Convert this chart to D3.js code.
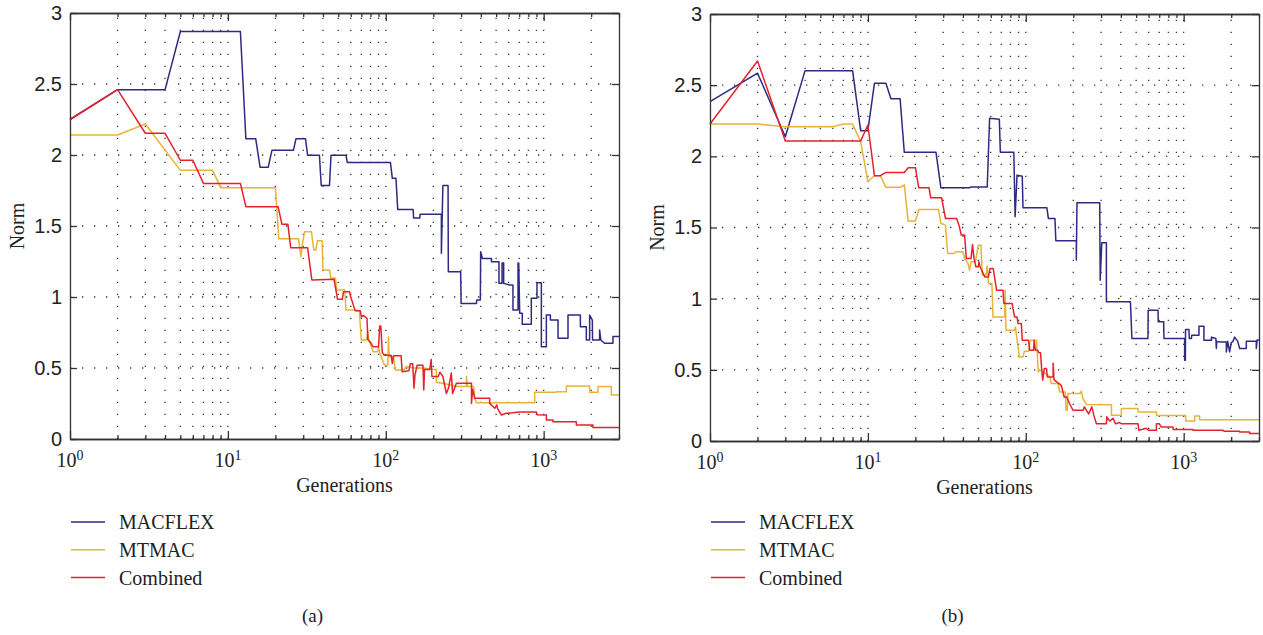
<!DOCTYPE html>
<html>
<head>
<meta charset="utf-8">
<script src="https://cdn.jsdelivr.net/npm/d3@7"></script>
<style>
  html, body { margin: 0; padding: 0; background: #fff; }
  svg { display: block; font-family: "Liberation Serif", "DejaVu Serif", serif; }
  .tick text { font-size: 20px; fill: #222; }
  .axis path, .axis line { stroke: #333; stroke-width: 1.3; }
  .grid line { stroke: #333; stroke-width: 1.3; stroke-dasharray: 1.3 10.7; }
</style>
</head>
<body>
<svg id="chart" width="1263" height="635"></svg>
<script>
// Norm per generation as [generation, norm] vertices
const macflexA = [[1,2.25],[2,2.46],[4,2.46],[5,2.87],[12,2.87],[13,2.115],[15,2.115],[16,1.913],[18,1.913],[19,2.033],[26,2.033],[27,2.115],[31,2.115],[32,1.998],[38,1.998],[39,1.786],[44,1.786],[45,1.998],[56,1.998],[57,1.948],[107,1.948],[110,1.836],[116,1.836],[119,1.617],[149,1.617],[150,1.556],[164,1.556],[165,1.582],[225,1.582],[225,1.308],[230,1.786],[248,1.786],[249,1.178],[298,1.178],[300,0.955],[375,0.955],[377,0.979],[397,0.979],[399,1.319],[409,1.272],[467,1.272],[467,1.249],[521,1.249],[521,1.096],[545,1.096],[545,1.24],[558,1.24],[558,1.096],[609,1.085],[639,1.085],[639,0.908],[688,0.908],[688,1.24],[695,1.24],[705,0.885],[732,0.885],[732,0.808],[835,0.808],[835,0.991],[907,0.991],[907,1.101],[967,1.101],[967,0.65],[1040,0.65],[1040,0.873],[1103,0.873],[1103,0.838],[1233,0.838],[1233,0.709],[1426,0.709],[1426,0.873],[1708,0.873],[1708,0.791],[1863,0.791],[1863,0.697],[1955,0.697],[1955,0.873],[2033,0.838],[2040,0.697],[2261,0.697],[2261,0.768],[2300,0.697],[2430,0.674],[2746,0.674],[2746,0.721],[3000,0.721]];

const mtmacA = [[1,2.141],[2,2.141],[3,2.218],[5,1.892],[8,1.892],[9,1.77],[20,1.77],[21,1.411],[28,1.411],[29,1.284],[29.5,1.36],[30.6,1.46],[33.8,1.46],[35,1.331],[36,1.331],[37,1.397],[39.5,1.397],[40,1.19],[44,1.19],[45,1.132],[48,1.132],[49,1.049],[55,1.049],[56,0.908],[64,0.908],[68,0.9],[70,0.697],[75.6,0.697],[77,0.76],[78,0.7],[83,0.615],[89,0.615],[90,0.65],[92,0.6],[98,0.521],[103,0.521],[104,0.72],[105,0.58],[112,0.58],[115,0.486],[130,0.486],[135,0.51],[150,0.5],[175,0.5],[199,0.49],[209,0.49],[209,0.4],[260,0.38],[280,0.37],[324,0.37],[324,0.44],[330,0.37],[360,0.37],[366,0.287],[375,0.256],[877,0.256],[877,0.329],[1203,0.329],[1203,0.333],[1393,0.333],[1393,0.373],[1955,0.373],[1955,0.33],[2208,0.33],[2208,0.37],[2682,0.37],[2682,0.31],[3000,0.31]];

const combinedA = [[1,2.25],[2,2.46],[3,2.153],[4,2.153],[5,1.963],[6,1.963],[7,1.8],[12,1.8],[13,1.636],[20.8,1.636],[22,1.512],[24,1.512],[25,1.347],[32,1.347],[34,1.12],[47,1.125],[49.5,0.984],[53,0.984],[54,1.037],[59,1.037],[60,1.0],[64,0.904],[69,0.904],[70,0.86],[72,0.87],[76,0.85],[77,0.7],[80,0.68],[83,0.65],[90,0.65],[91.5,0.796],[93,0.796],[95,0.61],[98,0.59],[108,0.59],[110,0.533],[112,0.587],[125,0.587],[127,0.474],[140,0.48],[143,0.53],[148,0.53],[151,0.357],[153,0.45],[158,0.52],[172,0.52],[174,0.345],[176,0.49],[190,0.49],[194,0.56],[196,0.44],[215,0.44],[220,0.47],[230,0.44],[242,0.32],[250,0.36],[260,0.464],[265,0.32],[280,0.392],[349,0.392],[349,0.251],[355,0.35],[366,0.287],[455,0.287],[455,0.251],[490,0.216],[505,0.24],[510,0.216],[540,0.169],[580,0.181],[705,0.19],[899,0.19],[910,0.17],[1040,0.169],[1040,0.134],[1146,0.134],[1146,0.122],[1610,0.122],[1610,0.099],[2052,0.099],[2052,0.081],[3000,0.081]];

const macflexB = [[1,2.384],[2,2.584],[3,2.138],[4,2.602],[8,2.602],[9,2.18],[10,2.18],[11,2.513],[13,2.513],[14,2.405],[16,2.405],[17,2.028],[27,2.028],[29,1.779],[44,1.779],[45,1.785],[57,1.785],[59,2.267],[68,2.26],[69,2.028],[84,2.028],[85.6,1.575],[88,1.868],[95,1.86],[96,1.639],[136,1.639],[139,1.564],[153,1.564],[155,1.407],[209,1.407],[209,1.271],[211,1.674],[294,1.674],[296,1.13],[303,1.392],[324,1.392],[324,0.978],[460,0.978],[470,0.72],[594,0.72],[596,0.919],[688,0.919],[690,0.837],[747,0.837],[750,0.72],[1014,0.72],[1014,0.567],[1025,0.567],[1028,0.783],[1080,0.783],[1085,0.72],[1120,0.72],[1125,0.743],[1250,0.743],[1250,0.806],[1344,0.806],[1344,0.708],[1500,0.708],[1500,0.73],[1600,0.72],[1610,0.65],[1620,0.7],[1690,0.696],[1863,0.696],[1863,0.626],[1900,0.7],[1955,0.626],[2000,0.69],[2052,0.7],[2103,0.73],[2200,0.7],[2261,0.65],[2493,0.65],[2493,0.7],[2884,0.7],[2884,0.65],[2920,0.71],[3000,0.71]];

const mtmacB = [[1,2.227],[2,2.227],[3,2.208],[6,2.208],[7,2.227],[8,2.227],[9,2.103],[10,1.821],[11,1.864],[12,1.864],[13,1.782],[16,1.782],[17,1.8],[18,1.545],[20,1.545],[21,1.627],[28,1.627],[29,1.529],[31,1.517],[32,1.318],[35,1.318],[36,1.33],[40,1.33],[41,1.28],[43,1.25],[44,1.2],[45,1.26],[48,1.26],[50,1.376],[52,1.376],[53,1.165],[56,1.165],[57,1.23],[58,1.107],[61,1.107],[62,0.872],[73.5,0.872],[74,1.06],[75,0.778],[85,0.778],[86,0.8],[91,0.591],[96,0.591],[98,0.63],[104,0.63],[107,0.708],[117,0.708],[120,0.485],[123,0.5],[135,0.47],[142,0.45],[145,0.404],[160,0.404],[164,0.345],[178,0.345],[180,0.216],[183,0.216],[185,0.333],[220,0.333],[225,0.35],[230,0.3],[242,0.257],[349,0.255],[349,0.181],[403,0.181],[403,0.228],[514,0.228],[514,0.204],[672,0.204],[672,0.18],[1030,0.18],[1030,0.141],[1175,0.141],[1175,0.175],[1262,0.175],[1262,0.15],[3000,0.15]];

const combinedB = [[1,2.227],[2,2.67],[3,2.108],[9,2.108],[10,2.22],[11,1.864],[12,1.864],[13,1.887],[17,1.887],[18,1.92],[20,1.92],[21,1.779],[24.4,1.779],[25,1.709],[29.3,1.709],[31,1.564],[36.5,1.564],[38,1.505],[39,1.447],[41,1.447],[42,1.283],[45,1.283],[46,1.38],[47,1.283],[48.3,1.224],[50,1.224],[50.5,1.26],[51.3,1.224],[55,1.153],[58,1.153],[59.4,1.212],[62.2,1.212],[65.3,1.06],[71.8,1.06],[72.6,0.966],[82,0.966],[83,0.93],[85,0.872],[88,0.872],[89.3,0.825],[93.7,0.825],[95,0.708],[104,0.708],[106,0.638],[112,0.638],[113,0.708],[115,0.638],[119,0.638],[121,0.62],[124,0.62],[126,0.509],[128,0.427],[131,0.51],[135,0.51],[137,0.45],[149,0.45],[149,0.546],[151,0.43],[164,0.4],[168,0.39],[175,0.31],[181,0.31],[190,0.26],[199,0.216],[231,0.216],[235,0.24],[250,0.19],[262,0.24],[270,0.18],[280,0.122],[324,0.122],[326,0.17],[340,0.14],[357,0.16],[370,0.12],[390,0.13],[403,0.122],[514,0.122],[520,0.075],[580,0.09],[600,0.075],[672,0.075],[672,0.122],[700,0.122],[722,0.098],[856,0.098],[856,0.08],[1146,0.08],[1146,0.075],[1774,0.075],[1800,0.068],[2261,0.068],[2261,0.063],[2617,0.063],[2617,0.052],[3000,0.052]];

const seriesNames = ["MACFLEX", "MTMAC", "Combined"];
const seriesColors = ["#2e2a82", "#e8b437", "#e5222b"];
const xDomain = [1, 3000];
const xMajorTicks = [1, 10, 100, 1000];
const xTickExponents = ["0", "1", "2", "3"];
const yTicks = [0, 0.5, 1, 1.5, 2, 2.5, 3];
const panelLabels = ["(a)", "(b)"];

const panels = [
  { left: 70, top: 13, width: 549, height: 426, series: [macflexA, mtmacA, combinedA] },
  { left: 710, top: 14, width: 549, height: 427, series: [macflexB, mtmacB, combinedB] },
];

const svg = d3.select("#chart");

panels.forEach((p, i) => {
  const g = svg.append("g").attr("transform", `translate(${p.left},${p.top})`);
  const x = d3.scaleLog().domain(xDomain).range([0, p.width]);
  const y = d3.scaleLinear().domain([0, 3]).range([p.height, 0]);

  const allX = x.ticks();                       // 1..9, 10..90, ... 3000
  const minor = allX.filter(v => !xMajorTicks.includes(v));

  // dotted grid
  const grid = g.append("g").attr("class", "grid");
  grid.selectAll("line.v")
    .data(allX.filter(v => v > 1 && v < 3000))
    .join("line").attr("class", "v")
    .attr("x1", d => x(d)).attr("x2", d => x(d))
    .attr("y1", p.height).attr("y2", 0);
  grid.selectAll("line.h")
    .data(yTicks.filter(v => v > 0 && v < 3))
    .join("line").attr("class", "h")
    .attr("x1", 0).attr("x2", p.width)
    .attr("y1", d => y(d)).attr("y2", d => y(d));

  // series
  const line = d3.line().x(d => x(d[0])).y(d => y(d[1]));
  p.series.forEach((s, k) => {
    g.append("path")
      .datum(s)
      .attr("fill", "none")
      .attr("stroke", seriesColors[k])
      .attr("stroke-width", 1.5)
      .attr("stroke-linejoin", "round")
      .attr("d", line);
  });

  // frame and ticks (all inward)
  g.append("g").attr("class", "axis")
    .attr("transform", `translate(0,${p.height})`)
    .call(d3.axisBottom(x).tickValues(minor).tickSize(-4).tickSizeOuter(0).tickFormat(""));
  g.append("g").attr("class", "axis")
    .attr("transform", `translate(0,${p.height})`)
    .call(d3.axisBottom(x).tickValues(xMajorTicks).tickSize(-8).tickSizeOuter(0).tickFormat(""));
  g.append("g").attr("class", "axis")
    .call(d3.axisTop(x).tickValues(minor).tickSize(-4).tickSizeOuter(0).tickFormat(""));
  g.append("g").attr("class", "axis")
    .call(d3.axisTop(x).tickValues(xMajorTicks).tickSize(-8).tickSizeOuter(0).tickFormat(""));
  g.append("g").attr("class", "axis")
    .call(d3.axisLeft(y).tickValues(yTicks).tickSize(-7).tickSizeOuter(0).tickPadding(8)
      .tickFormat(d => String(d)));
  g.append("g").attr("class", "axis")
    .attr("transform", `translate(${p.width},0)`)
    .call(d3.axisRight(y).tickValues(yTicks).tickSize(-7).tickSizeOuter(0).tickFormat(""));

  // x tick labels 10^k
  xMajorTicks.forEach((v, k) => {
    const t = g.append("text")
      .attr("x", x(v)).attr("y", p.height + 28)
      .attr("text-anchor", "middle")
      .attr("font-size", 20).attr("fill", "#222");
    t.append("tspan").text("10");
    t.append("tspan").attr("dy", -7).attr("font-size", 14).text(xTickExponents[k]);
  });

  // axis titles
  g.append("text")
    .attr("x", p.width / 2).attr("y", p.height + 53)
    .attr("text-anchor", "middle").attr("font-size", 20).attr("fill", "#222")
    .text("Generations");
  g.append("text")
    .attr("transform", `translate(-46,${p.height / 2}) rotate(-90)`)
    .attr("text-anchor", "middle").attr("font-size", 20).attr("fill", "#222")
    .text("Norm");

  // legend
  const lg = g.append("g").attr("transform", `translate(0,${522 - p.top})`);
  seriesNames.forEach((name, k) => {
    const ly = k * 27.8;
    lg.append("line")
      .attr("x1", 1).attr("x2", 35).attr("y1", ly).attr("y2", ly)
      .attr("stroke", seriesColors[k]).attr("stroke-width", 1.5);
    lg.append("text")
      .attr("x", 49).attr("y", ly + 7)
      .attr("font-size", 20).attr("fill", "#222")
      .text(name);
  });

  g.append("text")
    .attr("x", p.width / 2 - 32).attr("y", 621.5 - p.top)
    .attr("text-anchor", "middle").attr("font-size", 19).attr("fill", "#222")
    .text(panelLabels[i]);
});
</script>
</body>
</html>
